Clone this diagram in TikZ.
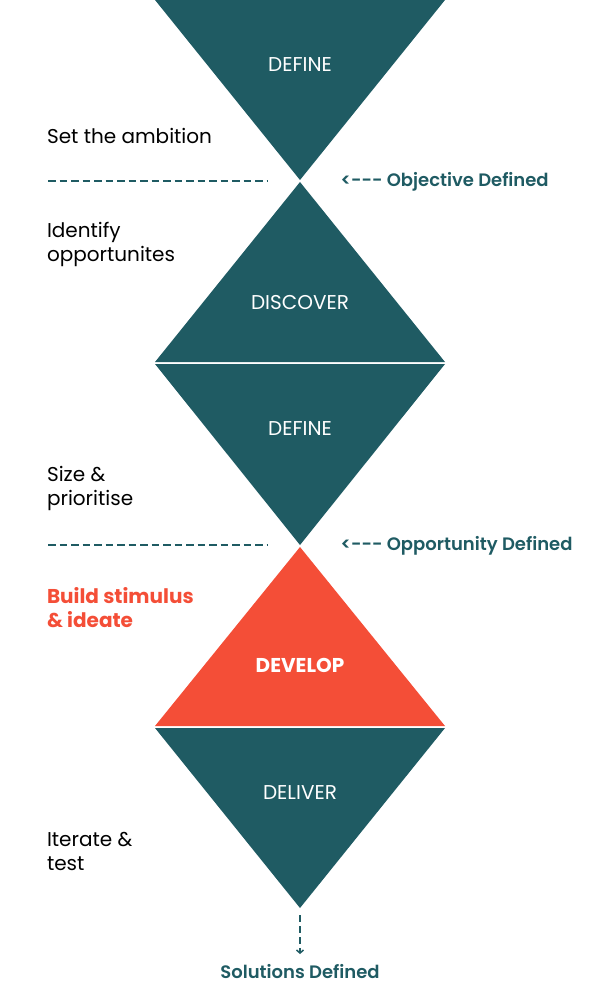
\documentclass[tikz,border=0pt]{standalone}
\usepackage{fontspec}
\setmainfont{Poppins}
\newfontfamily\semibold{Poppins}[UprightFont=* SemiBold]
\usetikzlibrary{arrows.meta}
\definecolor{tealColor}{RGB}{31,91,99}
\definecolor{focusOrange}{RGB}{244,78,55}

\begin{document}
\begin{tikzpicture}[x=1pt,y=-1pt]

            \tikzstyle{downPhase} = [fill=tealColor];
            \tikzstyle{upPhase} = [fill=tealColor];
            \tikzstyle{phaseText} = [white, font=\fontsize{20}{24}\selectfont];
            \tikzstyle{stepText} = [anchor=west, align=left, font=\fontsize{20}{24}\selectfont];
            \tikzstyle{gateText} = [tealColor, font=\fontsize{18}{22}\semibold];
            \tikzstyle{gateLine} = [tealColor, line width=2pt, dash pattern=on 7.5pt off 4pt];

            \useasboundingbox (0,0) rectangle (600,1000);

            % triangles
            \fill[downPhase] (155,0) -- (445,0) -- (300,180) -- cycle;
            \fill[upPhase] (300,182) -- (445,362) -- (155,362) -- cycle;
            \fill[downPhase] (155,364) -- (445,364) -- (300,545) -- cycle;
            \fill[focusOrange] (300,547) -- (445,726) -- (155,726) -- cycle;
            \fill[downPhase] (155,728) -- (445,728) -- (300,908) -- cycle;

            \node[phaseText] (define1)  at (300,64.5)  {DEFINE};
            \node[phaseText] (discover) at (300,302.5) {DISCOVER};
            \node[phaseText] (define2)  at (300,428.5) {DEFINE};
            \node[phaseText, font=\fontsize{20}{24}\bfseries] (develop) at (300,665.5) {DEVELOP};
            \node[phaseText] (deliver)  at (300,792.5) {DELIVER};

            % steps on the left
            \node[stepText] (ambition) at (43.5,135.5) {Set the ambition};
            \node[stepText] (identify) at (43.5,244) {Identify\\opportunites};
            \node[stepText] (size)     at (43.5,488) {Size \&\\prioritise};
            \node[stepText, focusOrange, font=\fontsize{20}{24}\bfseries] (build) at (43.5,607.5) {Build stimulus\\\& ideate};
            \node[stepText] (iterate)  at (43.5,851) {Iterate \&\\test};

            % gates
            \coordinate (lineA1) at (48,181);
            \coordinate (lineA2) at (268,181);
            \coordinate (lineB1) at (48,545);
            \coordinate (lineB2) at (268,545);
            \draw[gateLine] (lineA1) -- (lineA2);
            \draw[gateLine] (lineB1) -- (lineB2);

            \node[gateText, anchor=west] (objective)   at (337,181.5) {<-{}-{}-{} Objective Defined};
            \node[gateText, anchor=west] (opportunity) at (337,545.5) {<-{}-{}-{} Opportunity Defined};

            \coordinate (bottom) at (300,915);
            \node[gateText] (solutions) at (300,972) {Solutions Defined};
            \draw[tealColor, line width=2pt, dash pattern=on 7pt off 4pt,
                  -{Straight Barb[length=3pt,width=7pt,line width=1.5pt]}] (bottom) -- (300,954);

          \end{tikzpicture}
\end{document}
